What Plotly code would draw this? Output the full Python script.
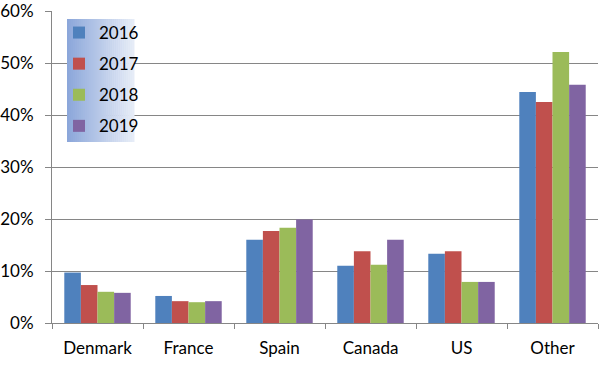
import plotly.graph_objects as go

categories = ["Denmark", "France", "Spain", "Canada", "US", "Other"]
years = ["2016", "2017", "2018", "2019"]
v2016 = [0.097, 0.052, 0.160, 0.110, 0.133, 0.444]
v2017 = [0.073, 0.042, 0.177, 0.138, 0.138, 0.425]
v2018 = [0.060, 0.040, 0.183, 0.112, 0.079, 0.521]
v2019 = [0.058, 0.042, 0.199, 0.160, 0.079, 0.458]
series = [v2016, v2017, v2018, v2019]
colors = ["#4F81BD", "#C0504D", "#9BBB59", "#8064A2"]

W, H = 599, 366
L, R, T, B = 52, 1, 11, 43
pw, ph = W - L - R, H - T - B

fig = go.Figure()
for i, (yr, vals) in enumerate(zip(years, series)):
    fig.add_trace(go.Bar(x=categories, y=vals, name=yr, marker_color=colors[i],
                         marker_line_width=0, legendgroup=yr))

# gradient legend background
x0p, x1p, y0p, y1p = 67, 134, 19, 142
n = 34
c0 = (0x8C, 0xA7, 0xDA)
c1 = (0xE6, 0xEC, 0xF7)
shapes = []
for k in range(n):
    t = k / (n - 1)
    col = tuple(int(round(c0[j] + (c1[j] - c0[j]) * t)) for j in range(3))
    xa = x0p + (x1p - x0p) * k / n
    xb = x0p + (x1p - x0p) * (k + 1) / n + 0.5
    shapes.append(dict(type="rect", xref="paper", yref="paper",
                       x0=(xa - L) / pw, x1=(xb - L) / pw,
                       y0=(H - B - y1p) / ph, y1=(H - B - y0p) / ph,
                       fillcolor="rgb(%d,%d,%d)" % col, line_width=0, layer="above"))

fig.update_layout(
    width=W, height=H,
    margin=dict(l=L, r=R, t=T, b=B),
    paper_bgcolor="white", plot_bgcolor="white",
    font=dict(family="Lato, Open Sans, sans-serif", size=17, color="#000000"),
    barmode="group", bargap=0.27, bargroupgap=0,
    shapes=shapes,
    legend=dict(x=(x0p - 8 - L) / pw, y=(H - B - y0p + 4) / ph, xanchor="left", yanchor="top",
                bgcolor="rgba(0,0,0,0)", font=dict(size=17), tracegroupgap=6,
                itemwidth=30),
    xaxis=dict(showgrid=False, showline=True, linecolor="#868686", linewidth=1,
               ticks="outside", tickson="boundaries", ticklen=5, tickcolor="#868686",
               tickfont=dict(size=17), ticklabelstandoff=10),
    yaxis=dict(range=[0, 0.6], dtick=0.1, tickformat=".0%", showgrid=True,
               gridcolor="#868686", gridwidth=1, showline=True, linecolor="#868686",
               ticks="outside", ticklen=6, tickcolor="#868686", zeroline=False,
               tickfont=dict(size=17), ticklabelstandoff=8, ticklabeloverflow="allow"),
)
fig.write_html("out.html")
